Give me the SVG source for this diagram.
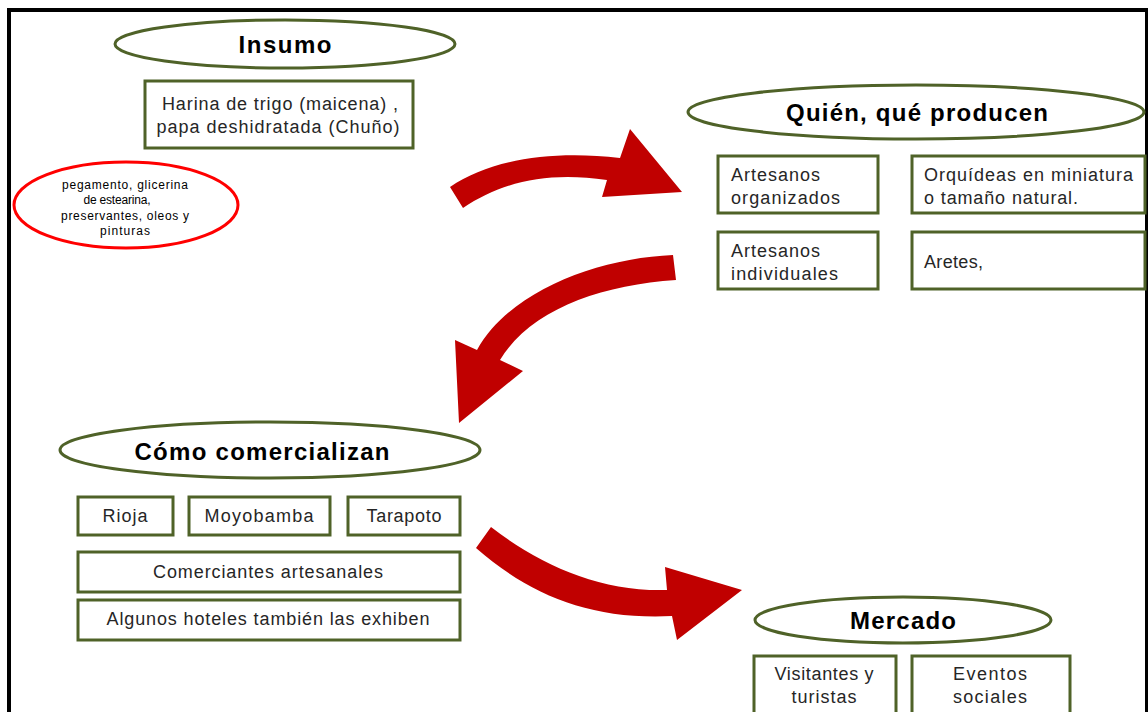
<svg xmlns="http://www.w3.org/2000/svg" width="1148" height="712" viewBox="0 0 1148 712">
<style>
.ell{fill:#fff;stroke:#4F6228;stroke-width:3}
.box{fill:#fff;stroke:#4F6228;stroke-width:3}
.red{fill:#fff;stroke:#FF0000;stroke-width:3}
.h{font-family:"Liberation Sans",Arial,sans-serif;font-weight:bold;font-size:24px;fill:#000;text-anchor:middle}
.t{font-family:"Liberation Sans",Arial,sans-serif;font-size:18px;fill:#262626}
.c{text-anchor:middle}
.s{font-family:"Liberation Sans",Arial,sans-serif;font-size:12px;fill:#000;text-anchor:middle}
.arr{fill:#C00000}
</style>
<rect x="0" y="0" width="1148" height="712" fill="#fff"/>
<rect x="9" y="10" width="1138" height="720" fill="none" stroke="#000" stroke-width="4"/>
<g id="connectors">
<path class="arr" d="M450,187 C490,160 550,150 620,158 L630,129 L682,192 L602,197 L607,180 C550,172 505,180 463,208 Z"/>
<path class="arr" d="M673,255 C600,258 510,290 477,350 L455,340 L459,423 L523,371 L500,360 C530,310 600,285 676,280 Z"/>
<path class="arr" d="M491,527 C540,565 600,592 667,590 L665,567 L742,590 L677,640 L672,616 C590,620 530,595 476,548 Z"/>
</g>
<g id="insumo">
<ellipse class="ell" cx="285" cy="44" rx="170" ry="24"/>
<text class="h" x="285" y="53" textLength="93">Insumo</text>
</g>
<g id="harina">
<rect class="box" x="145" y="81" width="268" height="67"/>
<text class="t c" x="280" y="110" textLength="236">Harina de trigo (maicena) ,</text>
<text class="t c" x="278" y="133" textLength="243">papa deshidratada (Chuño)</text>
</g>
<g id="otros">
<ellipse class="red" cx="126" cy="205" rx="112" ry="43"/>
<text class="s" x="125" y="189" textLength="126">pegamento, glicerina</text>
<text class="s" x="117" y="204" textLength="67">de estearina,</text>
<text class="s" x="125" y="220" textLength="128">preservantes, oleos y</text>
<text class="s" x="125" y="235" textLength="50">pinturas</text>
</g>
<g id="quien">
<ellipse class="ell" cx="916" cy="112" rx="228" ry="27"/>
<text class="h" x="917" y="121" textLength="262">Quién, qué producen</text>
</g>
<g id="art-org">
<rect class="box" x="718" y="156" width="160" height="57"/>
<text class="t" x="731" y="181" textLength="89">Artesanos</text>
<text class="t" x="731" y="204" textLength="109">organizados</text>
</g>
<g id="orquideas">
<rect class="box" x="912" y="156" width="233" height="57"/>
<text class="t" x="924" y="181" textLength="209">Orquídeas en miniatura</text>
<text class="t" x="924" y="204" textLength="154">o tamaño natural.</text>
</g>
<g id="art-ind">
<rect class="box" x="718" y="232" width="160" height="57"/>
<text class="t" x="731" y="257" textLength="89">Artesanos</text>
<text class="t" x="731" y="280" textLength="107">individuales</text>
</g>
<g id="aretes">
<rect class="box" x="912" y="232" width="233" height="57"/>
<text class="t" x="924" y="268" textLength="59">Aretes,</text>
</g>
<g id="como">
<ellipse class="ell" cx="270" cy="450" rx="210" ry="28"/>
<text class="h" x="262" y="460" textLength="255">Cómo comercializan</text>
</g>
<g id="rioja">
<rect class="box" x="78" y="497" width="95" height="38"/>
<text class="t c" x="125" y="522" textLength="45">Rioja</text>
</g>
<g id="moyobamba">
<rect class="box" x="189" y="497" width="141" height="38"/>
<text class="t c" x="259" y="522" textLength="109">Moyobamba</text>
</g>
<g id="tarapoto">
<rect class="box" x="348" y="497" width="112" height="38"/>
<text class="t c" x="404" y="522" textLength="75">Tarapoto</text>
</g>
<g id="comerciantes">
<rect class="box" x="78" y="552" width="382" height="40"/>
<text class="t c" x="268" y="578" textLength="230">Comerciantes artesanales</text>
</g>
<g id="hoteles">
<rect class="box" x="78" y="600" width="382" height="40"/>
<text class="t c" x="268" y="625" textLength="323">Algunos hoteles también las exhiben</text>
</g>
<g id="mercado">
<ellipse class="ell" cx="903" cy="620" rx="148" ry="23"/>
<text class="h" x="903" y="629" textLength="106">Mercado</text>
</g>
<g id="visitantes">
<rect class="box" x="754" y="656" width="142" height="70"/>
<text class="t c" x="824" y="680" textLength="99">Visitantes y</text>
<text class="t c" x="824" y="703" textLength="65">turistas</text>
</g>
<g id="eventos">
<rect class="box" x="912" y="656" width="158" height="70"/>
<text class="t c" x="990" y="680" textLength="74">Eventos</text>
<text class="t c" x="990" y="703" textLength="74">sociales</text>
</g>
</svg>
